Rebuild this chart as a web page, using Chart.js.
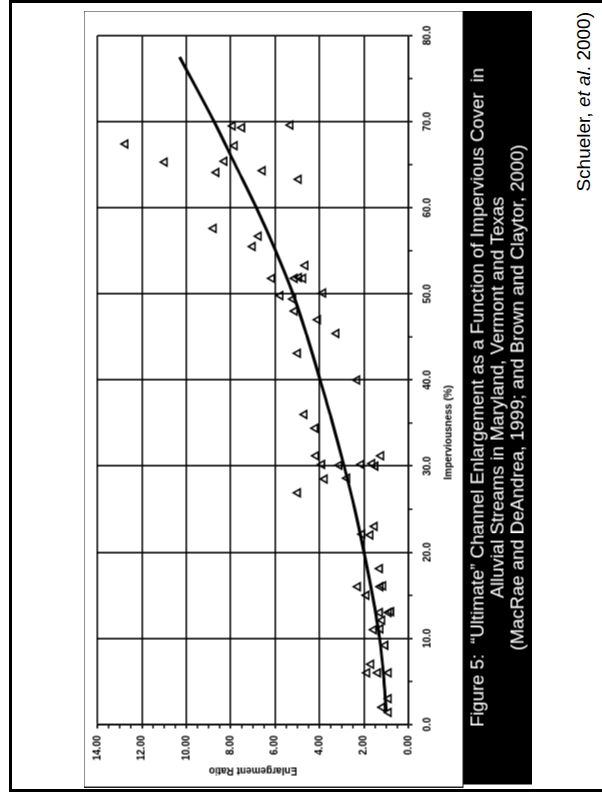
<!DOCTYPE html>
<html>
<head>
<meta charset="utf-8">
<script src="https://cdn.jsdelivr.net/npm/chart.js@4/dist/chart.umd.min.js"></script>
<style>
  html, body { margin: 0; padding: 0; background: #fff; width: 602px; height: 795px; overflow: hidden; position: relative;
    font-family: "Liberation Sans", Arial, sans-serif; }
  #outer { position: absolute; left: 9px; top: 0; width: 640px; height: 792px; border: 3px solid #000; box-sizing: border-box; }
  /* the figure is laid out landscape and turned a quarter turn counter-clockwise */
  #figure { position: absolute; left: -81.5px; top: 174.5px; width: 777px; height: 448px;
    transform: rotate(-90deg); transform-origin: 50% 50%; }
  #frame { position: absolute; left: 0; top: 0; width: 777px; height: 380px; border: 1px solid #222; box-sizing: border-box; }
  #plot { position: absolute; left: 0; top: 0; }
  #caption { position: absolute; left: 3px; top: 380px; width: 774px; height: 68px; background: #000; color: #fff;
    font-size: 18.5px; line-height: 20px; text-align: center; white-space: pre; padding-top: 4px; box-sizing: border-box; }
  #credit { position: absolute; left: 434px; top: 150px; width: 300px; height: 24px; line-height: 24px;
    font-size: 19px; text-align: right; white-space: pre; color: #000; transform: rotate(-90deg); }
</style>
</head>
<body>
<div id="outer"></div>
<div id="figure">
  <canvas id="plot" width="777" height="380"></canvas>
  <div id="frame"></div>
  <div id="caption"><div>Figure 5:  “Ultimate” Channel Enlargement as a Function of Impervious Cover  in</div><div>Alluvial Streams in Maryland, Vermont and Texas</div><div>(MacRae and DeAndrea, 1999; and Brown and Claytor, 2000)</div></div>
</div>
<div id="credit">Schueler, <i>et al</i>. 2000)</div>
<script>
// Observed streams: imperviousness (%) and ultimate enlargement ratio
const imperviousness = [
  67.4, 65.3, 69.5, 69.3, 69.6, 67.2, 65.4, 64.1, 64.3, 63.3,
  57.6, 56.7, 55.5, 53.3, 51.8, 51.8, 51.9, 51.8, 50.1, 49.8,
  49.4, 48.0, 47.0, 45.4, 43.1, 40.0, 36.0, 34.4, 31.2, 30.2,
  30.1, 30.2, 30.3, 30.0, 31.2, 28.5, 28.6, 26.9, 23.0, 22.1,
  22.0, 18.1, 16.0, 16.0, 16.1, 15.0, 13.0, 13.1, 13.0, 12.1,
  11.1, 11.0, 9.2, 7.0, 6.0, 6.0, 6.0, 3.0, 2.0, 1.4
];
const enlargementRatio = [
  12.74, 10.97, 7.91, 7.49, 5.31, 7.82, 8.28, 8.64, 6.56, 4.94,
  8.77, 6.74, 7.01, 4.64, 6.14, 5.12, 4.93, 4.74, 3.84, 5.76,
  5.19, 5.12, 4.08, 3.24, 4.98, 2.31, 4.68, 4.19, 4.16, 3.89,
  3.11, 2.12, 1.63, 1.49, 1.23, 3.77, 2.76, 4.98, 1.52, 2.08,
  1.71, 1.29, 2.28, 1.26, 1.14, 1.89, 1.29, 0.78, 0.89, 1.18,
  1.26, 1.56, 1.04, 1.68, 1.86, 1.38, 0.89, 0.89, 1.18, 0.89
];
// Fitted trend curve
const fitImperviousness = [1.5, 5, 10, 15, 20, 25, 30, 35, 40, 45, 50, 55, 60, 65, 70, 77.5];
const fitRatio = [1.00, 1.10, 1.30, 1.62, 2.00, 2.42, 2.90, 3.42, 3.98, 4.56, 5.20, 5.98, 6.85, 7.80, 8.75, 10.30];
// Axis ticks
const xTickValues = [0, 10, 20, 30, 40, 50, 60, 70, 80];
const xMinorValues = [5, 15, 25, 35, 45, 55, 65, 75];
const yTickValues = [0, 2, 4, 6, 8, 10, 12, 14];
const yMinorValues = [0.5, 1, 1.5, 2.5, 3, 3.5, 4.5, 5, 5.5, 6.5, 7, 7.5, 8.5, 9, 9.5, 10.5, 11, 11.5, 12.5, 13, 13.5];

const FONT = '"Liberation Sans", Arial, sans-serif';
Chart.defaults.font.family = FONT;
Chart.defaults.color = '#000';

const points = imperviousness.map((x, i) => ({ x, y: enlargementRatio[i] }));
const curve = fitImperviousness.map((x, i) => ({ x, y: fitRatio[i] }));

const minorTicks = {
  id: 'minorTicks',
  afterDraw(chart) {
    const { ctx, chartArea, scales } = chart;
    ctx.save();
    ctx.strokeStyle = '#000';
    ctx.lineWidth = 1.4;
    xMinorValues.forEach(v => {
      const p = scales.x.getPixelForValue(v);
      ctx.beginPath(); ctx.moveTo(p, chartArea.bottom); ctx.lineTo(p, chartArea.bottom + 4); ctx.stroke();
    });
    yMinorValues.forEach(v => {
      const p = scales.y.getPixelForValue(v);
      ctx.beginPath(); ctx.moveTo(chartArea.left, p); ctx.lineTo(chartArea.left - 4, p); ctx.stroke();
    });
    // x axis title, set a little toward the origin
    ctx.fillStyle = '#000';
    ctx.font = 'bold 10px ' + FONT;
    ctx.textAlign = 'center';
    ctx.textBaseline = 'middle';
    ctx.fillText('Imperviousness (%)', chartArea.left + 292, chartArea.bottom + 40);
    ctx.restore();
  }
};

new Chart(document.getElementById('plot'), {
  type: 'scatter',
  data: {
    datasets: [
      {
        type: 'line',
        data: curve,
        borderColor: '#000',
        borderWidth: 3,
        pointRadius: 0,
        fill: false,
        cubicInterpolationMode: 'monotone',
        order: 0
      },
      {
        data: points,
        pointStyle: 'triangle',
        pointRadius: 4.5,
        borderColor: '#000',
        backgroundColor: 'rgba(0,0,0,0)',
        borderWidth: 1.6,
        showLine: false,
        order: 1
      }
    ]
  },
  options: {
    responsive: false,
    animation: false,
    devicePixelRatio: 1,
    layout: { padding: { top: 14, right: 25, left: 0, bottom: 0 } },
    plugins: { legend: { display: false }, tooltip: { enabled: false } },
    scales: {
      x: {
        type: 'linear', min: 0, max: 80,
        afterBuildTicks: s => { s.ticks = xTickValues.map(value => ({ value })); },
        afterFit: s => { s.height = 55; },
        grid: { color: '#000', lineWidth: 1.6, tickLength: 4 },
        border: { color: '#000', width: 1.6 },
        ticks: { padding: 9, color: '#000', maxRotation: 0, font: { size: 10, weight: 'bold' },
          callback: v => Number(v).toFixed(1) }
      },
      y: {
        type: 'linear', min: 0, max: 14,
        afterBuildTicks: s => { s.ticks = yTickValues.map(value => ({ value })); },
        afterFit: s => { s.width = 63; },
        grid: { color: '#000', lineWidth: 1.6, tickLength: 4 },
        border: { color: '#000', width: 1.6 },
        ticks: { padding: 7, color: '#000', font: { size: 10, weight: 'bold' },
          callback: v => Number(v).toFixed(2) },
        title: { display: true, text: 'Enlargement Ratio', color: '#000',
          font: { size: 10, weight: 'bold' }, padding: { top: 11, bottom: 0 } }
      }
    }
  },
  plugins: [minorTicks]
});
</script>
</body>
</html>
